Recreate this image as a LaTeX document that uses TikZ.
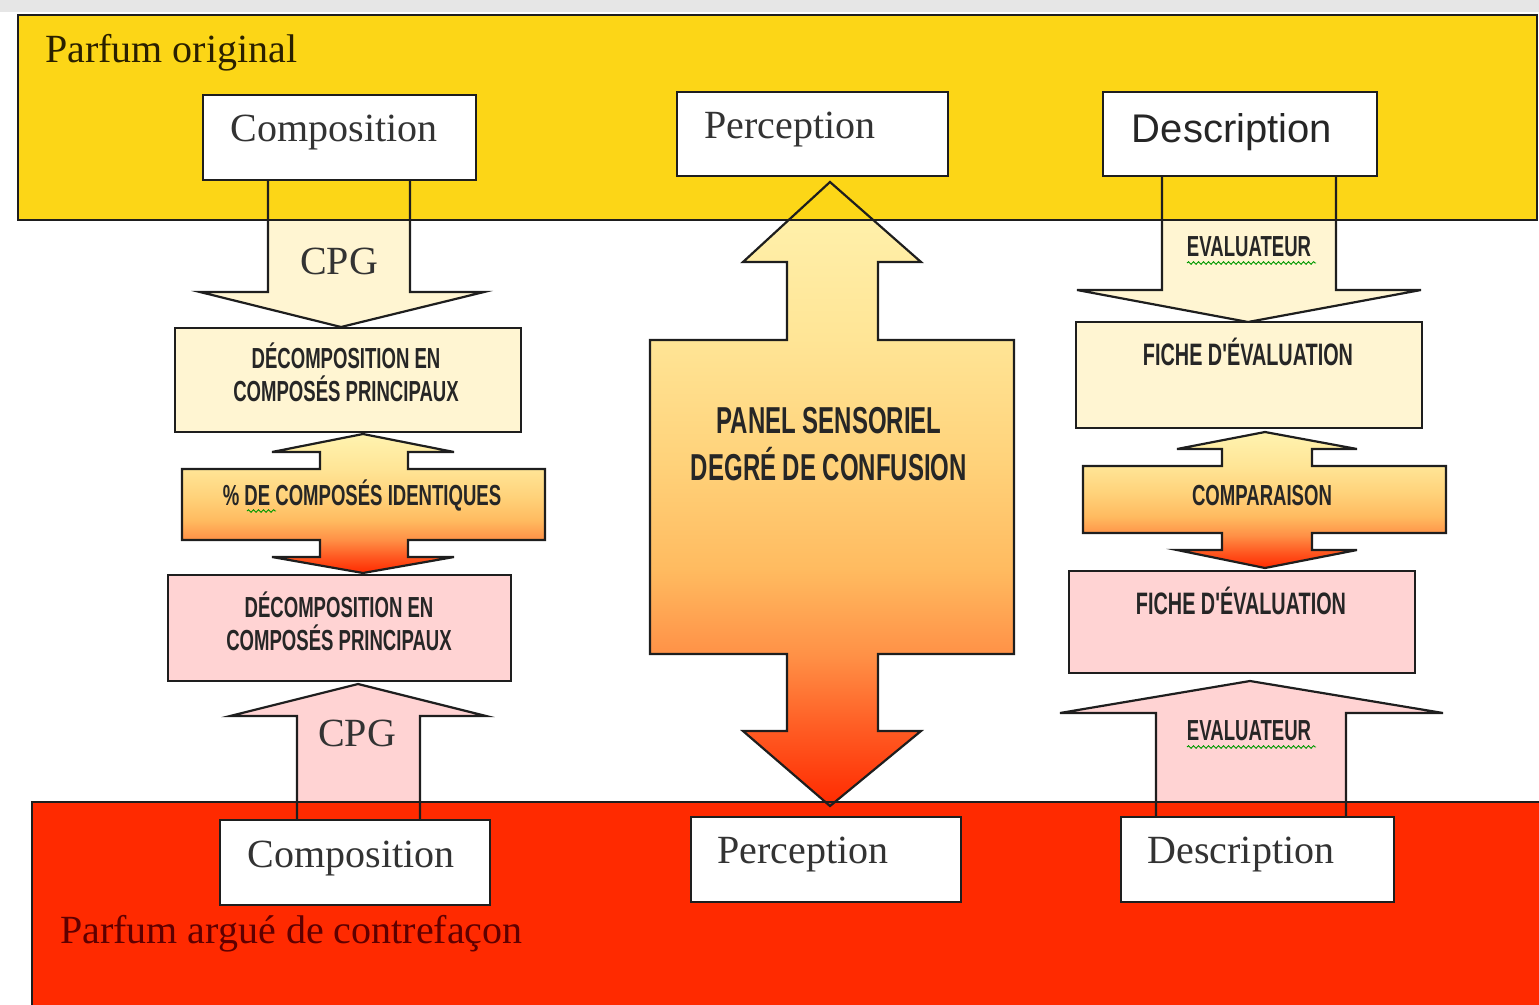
\documentclass[tikz,border=0pt]{standalone}
\usepackage{fontspec}
\setmainfont{Liberation Serif}
\newfontfamily\sansf{Liberation Sans}
\newfontfamily\condf[FakeStretch=0.64]{Liberation Sans}
\usetikzlibrary{decorations.pathmorphing}
\definecolor{bandY}{HTML}{FCD617}
\definecolor{bandR}{HTML}{FF2A00}
\definecolor{creamC}{HTML}{FFF5D2}
\definecolor{pinkC}{HTML}{FFD3D3}
\definecolor{lineC}{HTML}{1E1E1E}
\definecolor{gsA}{HTML}{FFF3B0}
\definecolor{gsB}{HTML}{FFE596}
\definecolor{gsC}{HTML}{FFD27A}
\definecolor{gsD}{HTML}{FFBB60}
\definecolor{gsE}{HTML}{FF9046}
\definecolor{gsF}{HTML}{FF5A22}
\definecolor{gsG}{HTML}{FF2A00}
\definecolor{txtG}{HTML}{333333}
\definecolor{txtR}{HTML}{5E0000}
\definecolor{txtY}{HTML}{2A2000}
\definecolor{stripC}{HTML}{E6E6E6}
\pgfdeclareverticalshading{arrowshade}{100bp}{color(0bp)=(gsG); color(25bp)=(gsG); color(31bp)=(gsF); color(37bp)=(gsE); color(44bp)=(gsD); color(52.5bp)=(gsC); color(62.5bp)=(gsB); color(75bp)=(gsA); color(100bp)=(gsA)}
\tikzset{
  outl/.style={draw=lineC, line width=2.2pt, line join=miter},
  wbox/.style={draw=lineC, line width=2.2pt, fill=white, inner sep=0pt},
  cbox/.style={draw=lineC, line width=2.2pt, fill=creamC, inner sep=0pt},
  pbox/.style={draw=lineC, line width=2.2pt, fill=pinkC, inner sep=0pt},
  bigtxt/.style={font=\fontsize{40}{44}\selectfont, inner sep=0pt, anchor=base, text=txtG},
  condtxt/.style={font=\condf\bfseries\fontsize{29}{31}\selectfont, inner sep=0pt, anchor=base, text=black!85},
  fichetxt/.style={font=\condf\bfseries\fontsize{31}{33}\selectfont, inner sep=0pt, anchor=base, text=black!85},
  paneltxt/.style={font=\condf\bfseries\fontsize{37.5}{40}\selectfont, inner sep=0pt, anchor=base, text=black!85},
  squig/.style={draw=green!60!black, line width=0.9pt, decorate, decoration={snake, amplitude=1.3pt, segment length=5pt}},
  gradfill/.style={shading=arrowshade}
}
\begin{document}
\begin{tikzpicture}[x=1pt,y=-1pt]
\useasboundingbox (0,0) rectangle (1539,1004);
% screenshot strip
\fill[stripC] (0,0) rectangle (1539,12);

% ---- arrow fills (under the bands)
\fill[creamC] (268,180) -- (268,292) -- (200,292) -- (341,327) -- (484,292) -- (410,292) -- (410,180) -- cycle;
\fill[creamC] (1162,176) -- (1162,290) -- (1077,290) -- (1248,322) -- (1421,290) -- (1336,290) -- (1336,176) -- cycle;
\fill[pinkC] (297,820) -- (297,716) -- (230,716) -- (358,684) -- (486,716) -- (420,716) -- (420,820) -- cycle;
\fill[pinkC] (1156,817) -- (1156,713) -- (1060,713) -- (1250,681) -- (1443,713) -- (1346,713) -- (1346,817) -- cycle;
\shade[gradfill] (830,182) -- (921,262) -- (878,262) -- (878,340) -- (1014,340) -- (1014,654) -- (878,654) -- (878,731) -- (921,731) -- (830,806) -- (743,731) -- (787,731) -- (787,654) -- (650,654) -- (650,340) -- (787,340) -- (787,262) -- (743,262) -- cycle;

% ---- bands
\node[draw=lineC, line width=2pt, fill=bandY, minimum width=1519pt, minimum height=205pt, inner sep=0pt] (orig) at (777.5,117.5) {};
\node[draw=lineC, line width=2pt, fill=bandR, minimum width=1509pt, minimum height=206pt, inner sep=0pt] (contre) at (786.5,905) {};

% ---- arrow outlines
\draw[outl] (268,180) -- (268,292) -- (200,292) -- (341,327) -- (484,292) -- (410,292) -- (410,180);
\draw[outl] (1162,176) -- (1162,290) -- (1077,290) -- (1248,322) -- (1421,290) -- (1336,290) -- (1336,176);
\draw[outl] (297,820) -- (297,716) -- (230,716) -- (358,684) -- (486,716) -- (420,716) -- (420,820);
\draw[outl] (1156,817) -- (1156,713) -- (1060,713) -- (1250,681) -- (1443,713) -- (1346,713) -- (1346,817);
\draw[outl] (830,182) -- (921,262) -- (878,262) -- (878,340) -- (1014,340) -- (1014,654) -- (878,654) -- (878,731) -- (921,731) -- (830,806) -- (743,731) -- (787,731) -- (787,654) -- (650,654) -- (650,340) -- (787,340) -- (787,262) -- (743,262) -- cycle;

% ---- double arrows
\shade[gradfill] (363,434) -- (454,452) -- (408,452) -- (408,469) -- (545,469) -- (545,540) -- (408,540) -- (408,557) -- (454,557) -- (363,573) -- (272,557) -- (320,557) -- (320,540) -- (182,540) -- (182,469) -- (320,469) -- (320,452) -- (272,452) -- cycle;
\draw[outl] (363,434) -- (454,452) -- (408,452) -- (408,469) -- (545,469) -- (545,540) -- (408,540) -- (408,557) -- (454,557) -- (363,573) -- (272,557) -- (320,557) -- (320,540) -- (182,540) -- (182,469) -- (320,469) -- (320,452) -- (272,452) -- cycle;
\shade[gradfill] (1265,432) -- (1357,449) -- (1312,449) -- (1312,466) -- (1446,466) -- (1446,533) -- (1312,533) -- (1312,550) -- (1357,550) -- (1265,568) -- (1177,550) -- (1222,550) -- (1222,533) -- (1083,533) -- (1083,466) -- (1222,466) -- (1222,449) -- (1177,449) -- cycle;
\draw[outl] (1265,432) -- (1357,449) -- (1312,449) -- (1312,466) -- (1446,466) -- (1446,533) -- (1312,533) -- (1312,550) -- (1357,550) -- (1265,568) -- (1177,550) -- (1222,550) -- (1222,533) -- (1083,533) -- (1083,466) -- (1222,466) -- (1222,449) -- (1177,449) -- cycle;

% ---- boxes
\node[wbox, minimum width=273pt, minimum height=85pt] (compT) at (339.5,137.5) {};
\node[wbox, minimum width=271pt, minimum height=84pt] (percT) at (812.5,134) {};
\node[wbox, minimum width=274pt, minimum height=84pt] (descT) at (1240,134) {};
\node[wbox, minimum width=270pt, minimum height=85pt] (compB) at (355,862.5) {};
\node[wbox, minimum width=270pt, minimum height=85pt] (percB) at (826,859.5) {};
\node[wbox, minimum width=273pt, minimum height=85pt] (descB) at (1257.5,859.5) {};
\node[cbox, minimum width=346pt, minimum height=104pt] (decoA) at (348,380) {};
\node[pbox, minimum width=343pt, minimum height=106pt] (decoB) at (339.5,628) {};
\node[cbox, minimum width=346pt, minimum height=106pt] (ficheA) at (1249,375) {};
\node[pbox, minimum width=346pt, minimum height=102pt] (ficheB) at (1242,622) {};

% ---- band titles
\node[bigtxt, anchor=base west, text=txtY] (torig) at (45,62) {Parfum original};
\node[bigtxt, anchor=base west, text=txtR] (tcontre) at (60,943) {Parfum argué de contrefaçon};

% ---- white box labels
\node[bigtxt] (tcompT) at (334,141) {Composition};
\node[bigtxt] (tpercT) at (790,138) {Perception};
\node[bigtxt, font=\sansf\fontsize{40}{44}\selectfont, text=black!85] (tdescT) at (1232,142) {Description};
\node[bigtxt] (tcompB) at (351,867) {Composition};
\node[bigtxt] (tpercB) at (803,863) {Perception};
\node[bigtxt] (tdescB) at (1241,863) {Description};

% ---- arrow labels
\node[bigtxt] (cpgT) at (339,274) {CPG};
\node[bigtxt] (cpgB) at (357,746) {CPG};
\node[condtxt] (evalT) at (1249,256) {EVALUATEUR};
\node[condtxt] (evalB) at (1249,740) {EVALUATEUR};
\draw[squig] (1187,263) -- (1316,263);
\draw[squig] (1187,747) -- (1316,747);

% ---- condensed labels
\node[condtxt] (tdA1) at (346,368) {DÉCOMPOSITION EN};
\node[condtxt] (tdA2) at (346,401) {COMPOSÉS PRINCIPAUX};
\node[condtxt] (tpct) at (362,505) {\% DE COMPOSÉS IDENTIQUES};
\draw[squig] (247,511) -- (276,511);
\node[condtxt] (tdB1) at (339,617) {DÉCOMPOSITION EN};
\node[condtxt] (tdB2) at (339,650) {COMPOSÉS PRINCIPAUX};
\node[paneltxt] (tpan1) at (829,433) {PANEL SENSORIEL};
\node[paneltxt] (tpan2) at (829,480) {DEGRÉ DE CONFUSION};
\node[fichetxt] (tfA) at (1248,365) {FICHE D'ÉVALUATION};
\node[condtxt] (tcmp) at (1262,505) {COMPARAISON};
\node[fichetxt] (tfB) at (1241,614) {FICHE D'ÉVALUATION};
\end{tikzpicture}
\end{document}
